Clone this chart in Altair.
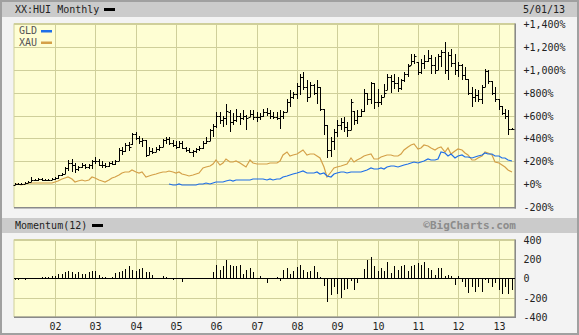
import altair as alt
import pandas as pd

MONO = "DejaVu Sans Mono"

# ---------------- data ----------------
months = pd.date_range("2001-01-01", periods=149, freq="MS").strftime("%Y-%m-%dT00:00:00").tolist()

# HUI monthly OHLC, % change from start
hui_high = [8, 12, 10, 18, 30, 60, 48, 52, 55, 48, 50, 58,
            62, 85, 100, 150, 210, 218, 190, 160, 188, 180, 175, 215,
            235, 225, 200, 185, 195, 205, 215, 320, 322, 365, 370, 452,
            455, 420, 400, 385, 325, 315, 330, 345, 395, 415, 415, 385,
            375, 380, 375, 330, 315, 300, 320, 335, 380, 410, 485, 530,
            630, 632, 600, 705, 645, 618, 660, 618, 646, 603, 646, 646,
            632, 618, 661, 670, 646, 632, 632, 646, 640, 748, 820, 806,
            880, 966, 980, 907, 893, 875, 907, 849, 660, 520, 414, 487,
            559, 575, 588, 540, 748, 640, 646, 661, 835, 800, 893, 880,
            835, 777, 879, 966, 951, 966, 936, 922, 980, 1053, 1140, 1140,
            1067, 1096, 1125, 1168, 1125, 1110, 1140, 1168, 1240, 1154, 1183, 1140,
            1067, 1053, 1023, 922, 849, 835, 820, 864, 1009, 994, 900, 849,
            748, 680, 661, 646, 495]
hui_low = [-4, -2, -5, 2, 10, 22, 30, 30, 32, 25, 28, 36,
           40, 48, 70, 90, 120, 105, 95, 115, 140, 135, 130, 135,
           175, 160, 145, 140, 150, 165, 170, 200, 260, 280, 290, 345,
           385, 350, 330, 240, 255, 265, 280, 295, 325, 350, 345, 325,
           310, 315, 310, 285, 270, 240, 275, 290, 305, 355, 380, 415,
           490, 530, 500, 515, 458, 516, 545, 516, 560, 472, 588, 560,
           545, 559, 588, 595, 574, 574, 560, 487, 574, 632, 675, 748,
           748, 777, 820, 719, 762, 777, 705, 640, 429, 226, 240, 300,
           414, 472, 458, 414, 472, 516, 530, 590, 632, 690, 705, 661,
           675, 690, 762, 820, 800, 835, 806, 820, 893, 936, 1038, 1053,
           951, 966, 1009, 1067, 966, 966, 994, 1023, 966, 907, 1023, 951,
           936, 907, 907, 777, 675, 719, 719, 705, 849, 879, 777, 719,
           646, 603, 574, 429, 472]
hui_close = [2, 6, 4, 14, 22, 40, 38, 45, 40, 38, 42, 50,
             52, 80, 90, 140, 185, 170, 130, 150, 165, 150, 165, 205,
             200, 170, 165, 160, 185, 180, 205, 300, 290, 340, 330, 440,
             405, 375, 385, 260, 295, 285, 305, 330, 385, 395, 360, 340,
             330, 365, 320, 300, 285, 290, 305, 320, 365, 380, 470, 510,
             600, 560, 580, 640, 540, 560, 600, 580, 600, 580, 615, 590,
             590, 600, 630, 620, 600, 590, 580, 600, 630, 720, 760, 790,
             860, 940, 850, 760, 870, 800, 850, 660, 520, 300, 380, 460,
             520, 540, 500, 470, 720, 560, 600, 640, 800, 740, 880, 720,
             720, 760, 800, 940, 900, 880, 840, 910, 960, 1030, 1080, 1120,
             980, 1060, 1080, 1100, 1040, 1000, 1120, 1150, 1000, 1130, 1060, 1000,
             1040, 950, 920, 800, 760, 780, 740, 850, 990, 900, 800, 740,
             680, 620, 600, 480, 485]
hui_open = [-2, 2, 6, 4, 14, 24, 40, 38, 45, 40, 38, 42,
            50, 52, 80, 90, 140, 185, 170, 130, 150, 165, 150, 165,
            205, 200, 170, 165, 160, 185, 180, 205, 300, 290, 340, 350,
            440, 405, 375, 385, 260, 295, 285, 305, 330, 385, 395, 360,
            340, 330, 365, 320, 300, 285, 290, 305, 320, 365, 380, 470,
            510, 600, 560, 580, 630, 540, 560, 600, 580, 600, 590, 615,
            590, 590, 600, 630, 620, 600, 590, 580, 600, 635, 720, 760,
            790, 860, 940, 850, 765, 870, 800, 850, 660, 520, 300, 380,
            460, 520, 540, 500, 475, 640, 560, 600, 640, 800, 740, 880,
            720, 720, 762, 820, 940, 900, 880, 840, 910, 960, 1040, 1080,
            1067, 980, 1060, 1080, 1100, 1040, 1000, 1120, 1150, 1000, 1130, 1060,
            1000, 1040, 950, 920, 800, 760, 780, 740, 850, 990, 900, 800,
            740, 680, 620, 600, 480]

# XAU % change (from Jan 2001)
xau_pct = [0, 3, -2, 6, 12, 14, 10, 12, 16, 10, 8, 10,
           18, 31, 45, 55, 66, 50, 23, 30, 37, 30, 42, 61,
           55, 37, 30, 23, 40, 52, 60, 81, 95, 110, 105, 124,
           110, 96, 110, 66, 75, 81, 88, 96, 105, 110, 119, 110,
           100, 104, 88, 81, 73, 80, 90, 101, 139, 148, 160, 177,
           211, 168, 190, 217, 197, 195, 205, 182, 170, 153, 211, 190,
           180, 178, 177, 180, 182, 182, 182, 200, 255, 284, 246, 260,
           269, 285, 298, 255, 262, 268, 250, 226, 153, 66, 110, 139,
           153, 160, 168, 180, 226, 197, 210, 226, 246, 255, 269, 217,
           225, 240, 250, 255, 255, 250, 246, 269, 298, 327, 340, 356,
           304, 320, 342, 333, 320, 298, 315, 330, 284, 313, 269, 290,
           304, 300, 270, 255, 211, 215, 226, 250, 284, 270, 255, 197,
           190, 168, 150, 124, 110]

# GLD % change (from its start, Nov 2004 = index 46)
gld_start = 46
gld_pct = [0, -2, -3, 0, -2, -3, -4, -2, -3, 1, 5, 8, 6, 14,
           20, 18, 24, 32, 40, 32, 38, 36, 34, 36, 42, 45,
           44, 48, 47, 42, 44, 40, 45, 48, 62, 75, 80, 86,
           100, 110, 116, 100, 98, 102, 108, 88, 95, 70, 68, 88,
           96, 112, 104, 100, 110, 105, 106, 108, 116, 128, 145, 136,
           134, 140, 138, 152, 160, 156, 150, 160, 172, 178, 188, 195,
           185, 195, 204, 218, 212, 210, 222, 280, 270, 245, 265, 232,
           248, 255, 242, 238, 232, 240, 246, 254, 272, 262, 262, 245,
           248, 232, 230, 210, 205]

# Momentum(12)
momentum = [-17, -15, -5, -17, 0, 0, 0, 0, 15, 10, 12, 20,
            25, 40, 45, 60, 80, 60, 45, 60, 45, 45, 60, 80,
            70, 35, 17, 10, 2, 10, 52, 60, 70, 95, 130, 88,
            80, 95, 105, 60, 60, 35, 5, 5, 25, 17, 0, -20,
            -10, -10, -35, -5, -10, 0, 0, 0, 0, -8, 0, 60,
            140, 88, 130, 193, 140, 130, 130, 140, 45, 88, 105, 60,
            -10, 25, 0, -45, 0, -10, 10, -25, 88, 105, 45, 70,
            115, 140, 88, 60, 80, 122, 60, 17, -80, -245, -175, -95,
            -158, -200, -122, -115, -25, -122, -45, 0, 95, 193, 220, 122,
            70, 105, 70, 165, 52, 130, 88, 130, 140, 80, 130, 140,
            158, 140, 165, 105, 88, 35, 105, 105, 25, 35, 25, -70,
            25, -35, -95, -150, -95, -140, -95, -140, -17, -52, -95, -52,
            -122, -158, -95, -165, -122]

year_lines = [f"{y}-01-01T00:00:00" for y in range(2002, 2014)]
pct_levels = [-200, 0, 200, 400, 600, 800, 1000, 1200, 1400]
mom_levels = [-400, -200, 200, 400]

# ---------------- tables ----------------
ohlc = pd.DataFrame({"date": months, "high": hui_high, "low": hui_low,
                     "open": hui_open, "close": hui_close})
xau_df = pd.DataFrame({"date": months, "v": xau_pct})
gld_df = pd.DataFrame({"date": months[gld_start:gld_start + len(gld_pct)], "v": gld_pct})
mom_df = pd.DataFrame({"date": months, "mom": momentum})
yl_df = pd.DataFrame({"date": year_lines})
pl_df = pd.DataFrame({"lvl": pct_levels})
ml_df = pd.DataFrame({"lvl": mom_levels})
one = pd.DataFrame({"k": [0]})

# ---------------- scales / encodings ----------------
xscale = alt.Scale(domain=[alt.DateTime(year=2000, month=12, date=25, hours=16),
                           alt.DateTime(year=2013, month=5, date=30)],
                   range=[14, 515], round=True)
xaxis = alt.Axis(values=[alt.DateTime(year=y, month=1, date=1) for y in range(2002, 2014)],
                 labelExpr="timeFormat(datum.value, '%y')", grid=False, ticks=False,
                 domain=False, labelFont=MONO, labelFontSize=10, labelColor="#222",
                 labelPadding=4, title=None, labelFlush=False, labelOverlap=False)
xenc = alt.X("date:T", scale=xscale, axis=xaxis)

ytop = alt.Scale(domain=[-200, 1400], range=[207.3, 23.8], nice=False, zero=False, round=True)
ymom = alt.Scale(domain=[-400, 400], range=[317, 239.5], nice=False, zero=False, round=True)

ytop_axis = alt.Axis(orient="right", values=pct_levels, grid=False, ticks=False, domain=False,
                     labelExpr="(datum.value < 0 ? '-' : '+') + format(abs(datum.value), ',') + '%'",
                     labelFont=MONO, labelFontSize=10, labelColor="#222", labelPadding=8,
                     labelAlign="left", title=None, labelOverlap=False)
ymom_axis = alt.Axis(orient="right", values=[-400, -200, 0, 200, 400], grid=False, ticks=False,
                     domain=False,
                     labelExpr="(datum.value < 0 ? '-' : '') + format(abs(datum.value), 'd')",
                     labelFont=MONO, labelFontSize=10, labelColor="#222", labelPadding=8,
                     labelAlign="left", title=None, labelOverlap=False)

FILL = "#fefed3"
GRID = "#cfcf9a"
BAND = "#cbcbcb"


def rect(x, x2, y, y2, **kw):
    return alt.Chart(one).mark_rect(**kw).encode(
        x=alt.value(x), x2=alt.value(x2), y=alt.value(y), y2=alt.value(y2))


def label(text, x, y, align="left", **kw):
    return alt.Chart(one).mark_text(text=text, align=align, baseline="middle", **kw).encode(
        x=alt.value(x), y=alt.value(y))


layers = []
# frame & bands
layers.append(rect(2, 577, 2, 17, fill=BAND))
layers.append(rect(2, 577, 218, 233, fill=BAND))
layers.append(rect(14, 515, 23.5, 207.5, fill=FILL, stroke=GRID, strokeWidth=1))
layers.append(rect(14, 515, 239.5, 317, fill=FILL, stroke=GRID, strokeWidth=1))
layers.append(rect(1, 578, 1, 334, fill=None, stroke="#a0a0a0", strokeWidth=2))

# grid lines
layers.append(alt.Chart(yl_df).mark_rule(color=GRID, strokeWidth=1, xOffset=0.5).encode(
    x=xenc, y=alt.value(23.5), y2=alt.value(207.5)))
layers.append(alt.Chart(yl_df).mark_rule(color=GRID, strokeWidth=1, xOffset=0.5).encode(
    x=xenc, y=alt.value(239.5), y2=alt.value(317)))
layers.append(alt.Chart(pl_df).mark_rule(color=GRID, strokeWidth=1, yOffset=0.5).encode(
    y=alt.Y("lvl:Q", scale=ytop, axis=None), x=alt.value(14), x2=alt.value(515)))
layers.append(alt.Chart(ml_df).mark_rule(color=GRID, strokeWidth=1, yOffset=0.5).encode(
    y=alt.Y("lvl:Q", scale=ymom, axis=None), x=alt.value(14), x2=alt.value(515)))

# panel shadows (bottom/right darker edges)
layers.append(rect(514.5, 516, 23.5, 208.5, fill="#8a8a8a"))
layers.append(rect(14, 516, 207, 208.5, fill="#8a8a8a"))
layers.append(rect(514.5, 516, 239.5, 318, fill="#8a8a8a"))
layers.append(rect(14, 516, 316.5, 318, fill="#8a8a8a"))

# comparison lines
layers.append(alt.Chart(xau_df).mark_line(color="#d4a048", strokeWidth=1.2).encode(
    x=xenc, y=alt.Y("v:Q", scale=ytop, axis=None)))
layers.append(alt.Chart(gld_df).mark_line(color="#1f6fe8", strokeWidth=1.2).encode(
    x=xenc, y=alt.Y("v:Q", scale=ytop, axis=None)))

# HUI OHLC bars
layers.append(alt.Chart(ohlc).mark_rule(color="black", strokeWidth=1, xOffset=0.5).encode(
    x=xenc, y=alt.Y("low:Q", scale=ytop, axis=ytop_axis), y2="high:Q"))
layers.append(alt.Chart(ohlc).mark_rule(color="black", strokeWidth=1, xOffset=-1.5, x2Offset=0.5,
                                        yOffset=0.5).encode(
    x=xenc, x2="date:T", y=alt.Y("open:Q", scale=ytop, axis=None)))
layers.append(alt.Chart(ohlc).mark_rule(color="black", strokeWidth=1, xOffset=0.5, x2Offset=2.5,
                                        yOffset=0.5).encode(
    x=xenc, x2="date:T", y=alt.Y("close:Q", scale=ytop, axis=None)))

# momentum bars
layers.append(alt.Chart(mom_df).mark_rule(color="black", strokeWidth=1, xOffset=0.5).encode(
    x=xenc, y=alt.Y("mom:Q", scale=ymom, axis=ymom_axis), y2=alt.datum(0)))
layers.append(alt.Chart(one).mark_rule(color="black", strokeWidth=1, yOffset=0.5).encode(
    y=alt.YDatum(0, scale=ymom, axis=None), x=alt.value(14), x2=alt.value(515)))

# texts and legend swatches
layers.append(label("XX:HUI Monthly", 15, 10, font=MONO, fontSize=10, color="#222"))
layers.append(rect(104, 115, 8, 11, fill="black"))
layers.append(label("5/01/13", 523, 10, font=MONO, fontSize=10, color="#222"))
layers.append(label("GLD", 19, 31, font=MONO, fontSize=10, color="#555"))
layers.append(rect(41, 52, 30, 32.5, fill="#1f6fe8"))
layers.append(label("XAU", 19, 43, font=MONO, fontSize=10, color="#555"))
layers.append(rect(41, 52, 41.5, 44, fill="#d4a048"))
layers.append(label("Momentum(12)", 15, 226, font=MONO, fontSize=10, color="#222"))
layers.append(rect(92, 103, 224, 227, fill="black"))
layers.append(label("\u00a9BigCharts.com", 516, 226, align="right", font=MONO, fontSize=11,
                    fontWeight="bold", color="#8c8c8c"))

chart = alt.layer(*layers).resolve_scale(y="independent").properties(
    width=515, height=317,
    autosize=alt.AutoSizeParams(type="none"),
    padding={"left": 0, "top": 0, "right": 64, "bottom": 18},
    background="#f3f3f3",
).configure_view(stroke=None)

chart.save("out.html", embed_options={"renderer": "svg", "actions": False})
